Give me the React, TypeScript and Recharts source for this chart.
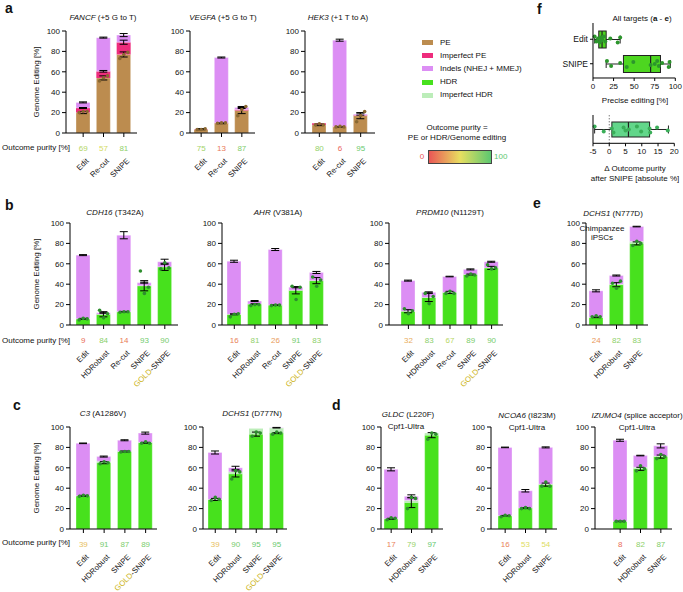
import React from 'react';
import { ComposedChart, Bar, Line, XAxis, YAxis, ErrorBar, ReferenceLine } from 'recharts';

const FONT = '"Liberation Sans", Arial, sans-serif';
const COL = {
  pe: '#bc8c4f',
  impPe: '#ee2c7c',
  indel: '#dc8ef4',
  hdr: '#47e11d',
  impHdr: '#bcedb9',
  peDot: '#8a6832',
  hdrDot: '#2e8e2e',
};

// categories
const catsA = ['Edit', 'Re-cut', 'SNIPE'];
const catsB = ['Edit', 'HDRobust', 'Re-cut', 'SNIPE', 'GOLD-SNIPE'];
const catsC = ['Edit', 'HDRobust', 'SNIPE', 'GOLD-SNIPE'];
const catsD = ['Edit', 'HDRobust', 'SNIPE'];

// a: FANCF
const fancfMain = [20, 54, 77];
const fancfImp = [4.5, 6.5, 12];
const fancfIndel = [5.5, 33, 7];
const fancfErrMain = [1, 2, 2.5];
const fancfErrImp = [0.5, 0.8, 2];
const fancfErrTop = [0.5, 0.5, 1.5];
const fancfReps = [[20, 21, 21], [51, 54, 56], [73, 77, 79]];
const fancfPurity = [69, 57, 81];
// a: VEGFA
const vegfaMain = [3.5, 9.5, 22];
const vegfaImp = [0.3, 0.5, 1];
const vegfaIndel = [0.2, 64, 2];
const vegfaErrMain = [0.3, 0.4, 3];
const vegfaErrTop = [0.3, 0.5, 1];
const vegfaReps = [[3.5, 3.5, 4], [9.5, 10, 10], [17, 23, 26]];
const vegfaPurity = [75, 13, 87];
// a: HEK3
const hek3Main = [8, 6, 17];
const hek3Imp = [1.5, 0.5, 0.5];
const hek3Indel = [0, 84.5, 1];
const hek3ErrMain = [0.8, 0.3, 3];
const hek3ErrTop = [0.5, 1, 1];
const hek3Reps = [[8, 9, 8], [6, 6.5, 6], [11, 17, 21]];
const hek3Purity = [80, 6, 95];

// b: CDH16
const cdh16Main = [6, 10.5, 13, 38.5, 57];
const cdh16Imp = [0, 0, 0, 0, 0];
const cdh16Indel = [62.5, 1.5, 75, 3, 5];
const cdh16ErrMain = [0.5, 2.5, 0.3, 5, 3.5];
const cdh16ErrTop = [0.5, 0.5, 3.5, 0.5, 2.5];
const cdh16Reps = [[5, 6.5, 6], [14.5, 7, 11], [12.5, 13, 13], [53, 31, 37], [55, 61, 56]];
const cdh16Purity = [9, 84, 14, 93, 90];
// b: AHR
const ahrMain = [10.5, 20.5, 19.5, 34, 43.5];
const ahrImp = [0, 0, 0, 0, 0];
const ahrIndel = [52, 3, 54.5, 3, 8];
const ahrErrMain = [0.5, 0.3, 0.3, 3.5, 3];
const ahrErrTop = [1, 0.5, 1, 0.5, 1];
const ahrReps = [[8, 10.5, 11], [19, 20, 20], [19, 19.5, 19.5], [38, 25, 37], [47, 38, 44]];
const ahrPurity = [16, 81, 26, 91, 83];
// b: PRDM10
const prdm10Main = [13.5, 27, 32, 49.5, 56];
const prdm10Imp = [0, 0, 0, 0, 0];
const prdm10Indel = [30, 5, 15.5, 5, 6];
const prdm10ErrMain = [1.5, 4, 1, 0.5, 1.5];
const prdm10ErrTop = [0.5, 0.5, 0.3, 0.5, 0.5];
const prdm10Reps = [[16, 11, 14], [31, 21, 28], [31, 33, 31], [48, 50, 49], [59, 55, 56]];
const prdm10Purity = [32, 83, 67, 89, 90];
// e: DCHS1 (N777D)
const dchs1eMain = [7.5, 39.5, 80];
const dchs1eImp = [0, 0.5, 2];
const dchs1eIndel = [26, 8.5, 14.5];
const dchs1eErrMain = [0.3, 2, 1.5];
const dchs1eErrTop = [1, 0.5, 0.3];
const dchs1eReps = [[8, 9, 8], [41, 36, 43], [78, 82, 80]];
const dchs1ePurity = [24, 82, 83];
// c: C3
const c3Main = [32.5, 65, 76, 84.5];
const c3Imp = [0, 1.5, 0, 0.5];
const c3Indel = [51.5, 4.5, 11, 9];
const c3ErrMain = [0.5, 1, 0.5, 0.5];
const c3ErrTop = [0.3, 0.5, 0.5, 1];
const c3Reps = [[32, 33, 32.5], [64, 66, 65], [75.5, 76, 76], [84, 85.5, 84]];
const c3Purity = [39, 91, 87, 89];
// c: DCHS1 (D777N)
const dchs1cMain = [29, 54, 93, 94];
const dchs1cImp = [0, 2, 5.5, 5];
const dchs1cIndel = [46, 4, 0, 0.3];
const dchs1cErrMain = [1, 3, 2, 0.5];
const dchs1cErrTop = [1.5, 1.5, 0.5, 0.3];
const dchs1cReps = [[28, 31, 29], [49, 57, 56], [91, 95, 94], [93, 95, 94]];
const dchs1cPurity = [39, 90, 95, 95];
// d: GLDC
const gldcMain = [10, 26, 92];
const gldcImp = [0, 2, 2];
const gldcIndel = [48.5, 4, 0];
const gldcErrMain = [0.5, 5, 2.5];
const gldcErrTop = [1.5, 1.5, 0.5];
const gldcReps = [[9, 11, 10.5], [20, 31, 30], [88, 94, 93]];
const gldcPurity = [17, 79, 97];
// d: NCOA6
const ncoa6Main = [13, 20.5, 43.5];
const ncoa6Imp = [0, 0, 0.5];
const ncoa6Indel = [67, 17, 36];
const ncoa6ErrMain = [0.3, 0.5, 1.5];
const ncoa6ErrTop = [0.3, 1.2, 0.5];
const ncoa6Reps = [[12, 13.5, 13], [20, 21, 20], [42, 46, 42]];
const ncoa6Purity = [16, 53, 54];
// d: IZUMO4
const izumo4Main = [7.5, 59, 71];
const izumo4Imp = [0, 1.5, 0.5];
const izumo4Indel = [79.5, 11.5, 10];
const izumo4ErrMain = [0.3, 1.5, 1.5];
const izumo4ErrTop = [1, 0.3, 2];
const izumo4Reps = [[7.5, 7.5, 7.5], [57, 62, 59], [69, 73, 71]];
const izumo4Purity = [8, 82, 87];

// f: box plots
const boxRows = ['Edit', 'SNIPE'];
const editStats = [2, 7, 11, 16, 33];
const editPoints = [2, 4, 6, 8, 9, 10, 11, 13, 15, 21, 30, 33];
const snipeStats = [16, 37, 70, 82, 94];
const snipePoints = [17, 22, 33, 41, 49, 70, 75, 78, 80, 84, 92, 93];
const deltaStats = [-4.5, 0.8, 5.9, 12.4, 18.2];
const deltaPoints = [-4.5, -1.7, 0.8, 1.3, 4.4, 5, 6, 8.5, 9.8, 12.4, 12.6, 14.7, 18];

const JIT = [-3, 2, -1, 3, -2, 1, 0, -3, 2, -1, 3, -2, 1];

function purityColor(v: number) {
  const stops = [
    [0, 234, 86, 86],
    [50, 232, 222, 96],
    [100, 92, 200, 112],
  ];
  const s = v <= 50 ? [stops[0], stops[1]] : [stops[1], stops[2]];
  const t = (v - s[0][0]) / (s[1][0] - s[0][0]);
  const c = [1, 2, 3].map((k) => Math.round(s[0][k] + (s[1][k] - s[0][k]) * t));
  return `rgb(${c[0]},${c[1]},${c[2]})`;
}

function makeTick(purity: number[]) {
  return (p: any) => {
    const { x, y, payload, index } = p;
    const v = purity[index];
    const label = String(payload.value);
    return (
      <g>
        <text x={x} y={y + 12} textAnchor="middle" fontSize={8} fill={purityColor(v)} fontFamily={FONT}>
          {v}
        </text>
        <text transform={`translate(${x + 6},${y + 22.5}) rotate(-45)`} textAnchor="end" fontSize={7.8} fill="#111" fontFamily={FONT}>
          {label === 'GOLD-SNIPE' ? (
            <>
              <tspan fill="#cdb51a">GOLD</tspan>
              <tspan>-SNIPE</tspan>
            </>
          ) : (
            label
          )}
        </text>
      </g>
    );
  };
}

function repDot(dx: number, fill: string) {
  return (p: any) => <circle key={`${dx}-${p.index}`} cx={p.cx + dx} cy={p.cy} r={1.8} fill={fill} />;
}

type Cfg = {
  cats: string[];
  main: number[];
  imp: number[];
  indel: number[];
  errMain: number[];
  errTop: number[];
  errImp?: number[];
  reps: number[][];
  purity: number[];
  kind: 'pe' | 'hdr';
  axisX: number;
  xEnd: number;
  top: number;
  padL: number;
  padR: number;
};

function StackChart({ cfg }: { cfg: Cfg }) {
  const { cats, main, imp, indel, errMain, errTop, errImp, reps, purity, kind, axisX, xEnd, top, padL, padR } = cfg;
  const data = cats.map((c, i) => ({
    cat: c,
    main: main[i],
    imp: imp[i],
    indel: indel[i],
    eM: errMain[i],
    eT: errTop[i],
    eI: errImp ? errImp[i] : 0,
    r1: reps[i][0],
    r2: reps[i][1],
    r3: reps[i][2],
  }));
  const YW = 26;
  const MT = 6;
  const MR = 4;
  const XH = 58;
  const PH = 102;
  const w = YW + (xEnd - axisX) + MR;
  const h = MT + PH + XH;
  const mainCol = kind === 'pe' ? COL.pe : COL.hdr;
  const impCol = kind === 'pe' ? COL.impPe : COL.impHdr;
  const dotCol = kind === 'pe' ? COL.peDot : COL.hdrDot;
  const edge = 'rgba(255,255,255,0.55)';
  return (
    <div style={{ position: 'absolute', left: axisX - YW, top: top - MT }}>
      <ComposedChart width={w} height={h} data={data} margin={{ top: MT, right: MR, left: 0, bottom: 0 }}>
        <XAxis
          dataKey="cat"
          height={XH}
          padding={{ left: padL, right: padR }}
          tickSize={4}
          interval={0}
          axisLine={{ stroke: '#000' }}
          tickLine={{ stroke: '#000' }}
          tick={makeTick(purity)}
        />
        <YAxis
          type="number"
          domain={[0, 100]}
          ticks={[0, 20, 40, 60, 80, 100]}
          width={YW}
          tickSize={4}
          axisLine={{ stroke: '#000' }}
          tickLine={{ stroke: '#000' }}
          tick={{ fontSize: 8, fill: '#111', fontFamily: FONT }}
          allowDataOverflow
        />
        <Bar dataKey="main" stackId="s" fill={mainCol} stroke={edge} strokeWidth={0.6} barSize={14} isAnimationActive={false}>
          <ErrorBar dataKey="eM" width={4} stroke="#000" strokeWidth={1} direction="y" />
        </Bar>
        <Bar dataKey="imp" stackId="s" fill={impCol} barSize={14} isAnimationActive={false}>
          {errImp ? <ErrorBar dataKey="eI" width={4} stroke="#000" strokeWidth={1} direction="y" /> : null}
        </Bar>
        <Bar dataKey="indel" stackId="s" fill={COL.indel} stroke={edge} strokeWidth={0.6} barSize={14} isAnimationActive={false}>
          <ErrorBar dataKey="eT" width={4} stroke="#000" strokeWidth={1} direction="y" />
        </Bar>
        <Line dataKey="r1" stroke="none" dot={repDot(-4, dotCol)} activeDot={false} isAnimationActive={false} />
        <Line dataKey="r2" stroke="none" dot={repDot(0, dotCol)} activeDot={false} isAnimationActive={false} />
        <Line dataKey="r3" stroke="none" dot={repDot(4, dotCol)} activeDot={false} isAnimationActive={false} />
      </ComposedChart>
    </div>
  );
}

const TOP_A = 31;
const TOP_B = 222.7;
const TOP_C = 427.3;

const charts: Cfg[] = [
  { cats: catsA, main: fancfMain, imp: fancfImp, indel: fancfIndel, errMain: fancfErrMain, errTop: fancfErrTop, errImp: fancfErrImp, reps: fancfReps, purity: fancfPurity, kind: 'pe', axisX: 66, xEnd: 137, top: TOP_A, padL: 7, padR: 3 },
  { cats: catsA, main: vegfaMain, imp: vegfaImp, indel: vegfaIndel, errMain: vegfaErrMain, errTop: vegfaErrTop, reps: vegfaReps, purity: vegfaPurity, kind: 'pe', axisX: 190, xEnd: 255, top: TOP_A, padL: 1, padR: 3 },
  { cats: catsA, main: hek3Main, imp: hek3Imp, indel: hek3Indel, errMain: hek3ErrMain, errTop: hek3ErrTop, reps: hek3Reps, purity: hek3Purity, kind: 'pe', axisX: 305, xEnd: 375, top: TOP_A, padL: 4, padR: 4 },
  { cats: catsB, main: cdh16Main, imp: cdh16Imp, indel: cdh16Indel, errMain: cdh16ErrMain, errTop: cdh16ErrTop, reps: cdh16Reps, purity: cdh16Purity, kind: 'hdr', axisX: 70, xEnd: 178, top: TOP_B, padL: 3, padR: 3 },
  { cats: catsB, main: ahrMain, imp: ahrImp, indel: ahrIndel, errMain: ahrErrMain, errTop: ahrErrTop, reps: ahrReps, purity: ahrPurity, kind: 'hdr', axisX: 222, xEnd: 328, top: TOP_B, padL: 2, padR: 1 },
  { cats: catsB, main: prdm10Main, imp: prdm10Imp, indel: prdm10Indel, errMain: prdm10ErrMain, errTop: prdm10ErrTop, reps: prdm10Reps, purity: prdm10Purity, kind: 'hdr', axisX: 389, xEnd: 503, top: TOP_B, padL: 9, padR: 1 },
  { cats: catsD, main: dchs1eMain, imp: dchs1eImp, indel: dchs1eIndel, errMain: dchs1eErrMain, errTop: dchs1eErrTop, reps: dchs1eReps, purity: dchs1ePurity, kind: 'hdr', axisX: 586, xEnd: 648, top: 223.3, padL: 0, padR: 1 },
  { cats: catsC, main: c3Main, imp: c3Imp, indel: c3Indel, errMain: c3ErrMain, errTop: c3ErrTop, reps: c3Reps, purity: c3Purity, kind: 'hdr', axisX: 70, xEnd: 157, top: TOP_C, padL: 3, padR: 1 },
  { cats: catsC, main: dchs1cMain, imp: dchs1cImp, indel: dchs1cIndel, errMain: dchs1cErrMain, errTop: dchs1cErrTop, reps: dchs1cReps, purity: dchs1cPurity, kind: 'hdr', axisX: 203, xEnd: 287, top: TOP_C, padL: 2, padR: 0 },
  { cats: catsD, main: gldcMain, imp: gldcImp, indel: gldcIndel, errMain: gldcErrMain, errTop: gldcErrTop, reps: gldcReps, purity: gldcPurity, kind: 'hdr', axisX: 381, xEnd: 443, top: TOP_C, padL: 0, padR: 1 },
  { cats: catsD, main: ncoa6Main, imp: ncoa6Imp, indel: ncoa6Indel, errMain: ncoa6ErrMain, errTop: ncoa6ErrTop, reps: ncoa6Reps, purity: ncoa6Purity, kind: 'hdr', axisX: 491, xEnd: 557, top: TOP_C, padL: 4, padR: 1 },
  { cats: catsD, main: izumo4Main, imp: izumo4Imp, indel: izumo4Indel, errMain: izumo4ErrMain, errTop: izumo4ErrTop, reps: izumo4Reps, purity: izumo4Purity, kind: 'hdr', axisX: 595, xEnd: 672, top: TOP_C, padL: 15, padR: 1 },
];

const titles = [
  { gene: 'FANCF', rest: ' (+5 G to T)', x: 103, y: 18 },
  { gene: 'VEGFA', rest: ' (+5 G to T)', x: 223, y: 18 },
  { gene: 'HEK3', rest: ' (+1 T to A)', x: 338, y: 18 },
  { gene: 'CDH16', rest: ' (T342A)', x: 115, y: 213 },
  { gene: 'AHR', rest: ' (V381A)', x: 278, y: 213 },
  { gene: 'PRDM10', rest: ' (N1129T)', x: 450, y: 213 },
  { gene: 'DCHS1', rest: ' (N777D)', x: 613, y: 214 },
  { gene: 'C3', rest: ' (A1286V)', x: 103, y: 414 },
  { gene: 'DCHS1', rest: ' (D777N)', x: 252, y: 414 },
  { gene: 'GLDC', rest: ' (L220F)', x: 408, y: 415 },
  { gene: 'NCOA6', rest: ' (I823M)', x: 527, y: 416 },
  { gene: 'IZUMO4', rest: ' (splice acceptor)', x: 637, y: 416 },
];

function T({ x, y, children, size = 8, color = '#111', bold = false, align = 'center' }: any) {
  const tx = align === 'center' ? '-50%' : align === 'right' ? '-100%' : '0';
  return (
    <div
      style={{
        position: 'absolute',
        left: x,
        top: y,
        transform: `translate(${tx},-50%)`,
        whiteSpace: 'nowrap',
        fontSize: size,
        lineHeight: 1,
        color,
        fontWeight: bold ? 700 : 400,
        fontFamily: FONT,
      }}
    >
      {children}
    </div>
  );
}

function makeBoxShape(fill: string, dot: string, cap: number) {
  return (props: any) => {
    const { x, y, width, height, payload } = props;
    const st: number[] = payload.stats;
    const pts: number[] = payload.points;
    const lo = st[0];
    const hi = st[4];
    const px = (v: number) => x + ((v - lo) / (hi - lo)) * width;
    const cy = y + height / 2;
    return (
      <g>
        <line x1={x} x2={x + width} y1={cy} y2={cy} stroke="#222" strokeWidth={1} />
        <line x1={x} x2={x} y1={cy - cap} y2={cy + cap} stroke="#222" strokeWidth={1} />
        <line x1={x + width} x2={x + width} y1={cy - cap} y2={cy + cap} stroke="#222" strokeWidth={1} />
        <rect x={px(st[1])} y={y} width={px(st[3]) - px(st[1])} height={height} fill={fill} stroke="#222" strokeWidth={1} />
        <line x1={px(st[2])} x2={px(st[2])} y1={y} y2={y + height} stroke="#222" strokeWidth={1.2} />
        {pts.map((v, i) => (
          <circle key={i} cx={px(v)} cy={cy + JIT[i % JIT.length]} r={2} fill={dot} />
        ))}
      </g>
    );
  };
}

function BoxTop() {
  const data = boxRows.map((r, i) => {
    const st = i === 0 ? editStats : snipeStats;
    return { name: r, range: [st[0], st[4]], stats: st, points: i === 0 ? editPoints : snipePoints };
  });
  return (
    <div style={{ position: 'absolute', left: 592.7 - 34, top: 21 }}>
      <ComposedChart layout="vertical" width={34 + 82.3 + 8} height={2 + 55 + 16} data={data} margin={{ top: 2, right: 8, left: 0, bottom: 0 }}>
        <XAxis
          type="number"
          domain={[0, 100]}
          ticks={[0, 25, 50, 75, 100]}
          height={16}
          tickSize={3}
          axisLine={{ stroke: '#000' }}
          tickLine={{ stroke: '#000' }}
          tick={{ fontSize: 8, fill: '#111', fontFamily: FONT }}
        />
        <YAxis
          type="category"
          dataKey="name"
          width={34}
          padding={{ top: 4, bottom: 2 }}
          tickSize={3}
          axisLine={{ stroke: '#000' }}
          tickLine={{ stroke: '#000' }}
          tick={{ fontSize: 8.5, fill: '#111', fontFamily: FONT }}
        />
        <Bar dataKey="range" barSize={17} shape={makeBoxShape('#4dd620', '#2c962c', 4)} isAnimationActive={false} />
      </ComposedChart>
    </div>
  );
}

function BoxBottom() {
  const data = [{ name: 'delta', range: [deltaStats[0], deltaStats[4]], stats: deltaStats, points: deltaPoints }];
  return (
    <div style={{ position: 'absolute', left: 592.7 - 10, top: 113 }}>
      <ComposedChart layout="vertical" width={10 + 81.3 + 8} height={2 + 28.3 + 16} data={data} margin={{ top: 2, right: 8, left: 0, bottom: 0 }}>
        <XAxis
          type="number"
          domain={[-5, 20]}
          ticks={[-5, 0, 5, 10, 15, 20]}
          height={16}
          tickSize={3}
          axisLine={{ stroke: '#000' }}
          tickLine={{ stroke: '#000' }}
          tick={{ fontSize: 8, fill: '#111', fontFamily: FONT }}
        />
        <YAxis type="category" dataKey="name" width={10} tick={false} tickLine={false} axisLine={{ stroke: '#000' }} />
        <ReferenceLine x={0} stroke="#444" strokeDasharray="1 2" />
        <Bar dataKey="range" barSize={15} shape={makeBoxShape('#62d68a', '#3aae58', 4)} isAnimationActive={false} />
      </ComposedChart>
    </div>
  );
}

const legendItems = [
  { label: 'PE', color: COL.pe },
  { label: 'Imperfect PE', color: COL.impPe },
  { label: 'Indels (NHEJ + MMEJ)', color: COL.indel },
  { label: 'HDR', color: COL.hdr },
  { label: 'Imperfect HDR', color: COL.impHdr },
];

export default function App() {
  return (
    <div style={{ position: 'absolute', left: 0, top: 0, width: 683, height: 592, background: '#fff', overflow: 'hidden', fontFamily: FONT }}>
      <style>{'.recharts-wrapper svg, .recharts-surface { overflow: visible !important; }'}</style>
      {charts.map((c, i) => (
        <StackChart key={i} cfg={c} />
      ))}
      {titles.map((t, i) => (
        <T key={i} x={t.x} y={t.y}>
          <i>{t.gene}</i>
          {t.rest}
        </T>
      ))}
      <T x={406} y={427}>Cpf1-Ultra</T>
      <T x={527} y={428}>Cpf1-Ultra</T>
      <T x={637} y={428}>Cpf1-Ultra</T>
      <T x={602} y={229}>Chimpanzee</T>
      <T x={602} y={238}>iPSCs</T>

      {/* panel letters */}
      <T x={5} y={8} size={14} bold align="left">a</T>
      <T x={5} y={205} size={14} bold align="left">b</T>
      <T x={13} y={405} size={14} bold align="left">c</T>
      <T x={332} y={405} size={14} bold align="left">d</T>
      <T x={533} y={203} size={14} bold align="left">e</T>
      <T x={537} y={9} size={14} bold align="left">f</T>

      {/* axis titles */}
      {[82, 274, 478].map((cy, i) => (
        <div
          key={i}
          style={{
            position: 'absolute',
            left: 37,
            top: cy,
            transform: 'translate(-50%,-50%) rotate(-90deg)',
            whiteSpace: 'nowrap',
            fontSize: 8,
            lineHeight: 1,
            color: '#111',
          }}
        >
          Genome Editing [%]
        </div>
      ))}
      {[148, 341, 543].map((cy, i) => (
        <T key={i} x={2} y={cy} align="left">Outcome purity [%]</T>
      ))}

      {/* legend */}
      {legendItems.map((l, i) => (
        <React.Fragment key={l.label}>
          <div style={{ position: 'absolute', left: 422, top: 40 + i * 13.2, width: 11, height: 5, background: l.color }} />
          <T x={440} y={42.5 + i * 13.2} align="left">{l.label}</T>
        </React.Fragment>
      ))}
      <T x={457} y={128}>Outcome purity =</T>
      <T x={457} y={138}>PE or HDR/Genome editing</T>
      <div
        style={{
          position: 'absolute',
          left: 428,
          top: 150,
          width: 62,
          height: 12,
          border: '1px solid #444',
          background: 'linear-gradient(to right, #ea5656, #e8de60, #5cc870)',
        }}
      />
      <T x={422} y={157} color="#ea5656">0</T>
      <T x={494} y={157} color="#5cc870" align="left">100</T>

      {/* panel f */}
      <T x={642} y={19}>
        All targets (<b>a</b> - <b>e</b>)
      </T>
      <BoxTop />
      <T x={635} y={101}>Precise editing [%]</T>
      <BoxBottom />
      <T x={635} y={169}>Δ Outcome purity</T>
      <T x={635} y={179}>after SNIPE [absolute %]</T>
    </div>
  );
}
